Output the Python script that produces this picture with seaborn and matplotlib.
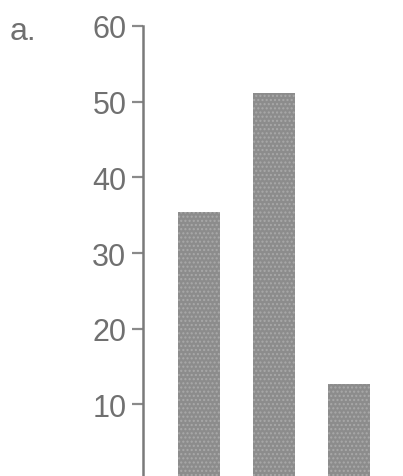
import pandas as pd
import matplotlib
matplotlib.use("Agg")
from matplotlib import pyplot as plt
import seaborn as sns

sns.set_style('white')

CATEGORIES = ["A", "B", "C"]
VALUES = [35.4, 51.1, 12.7]
YTICKS = [10, 20, 30, 40, 50, 60]
PANEL_LABEL = "a."

plt.rcParams['font.family'] = ['Liberation Sans', 'DejaVu Sans']

df = pd.DataFrame({"group": CATEGORIES, "value": VALUES})

fig = plt.figure(figsize=(4.03, 4.77), dpi=100)
ax = fig.add_axes([143 / 403, -4 / 477, 260 / 403, 454 / 477])

sns.barplot(data=df, x="group", y="value", color="#8c8c8c", saturation=1,
            width=0.56, edgecolor="none", ax=ax)
for patch in ax.patches:
    patch.set_hatch("....")
    patch.set_edgecolor("#a9a9a9")
    patch.set_linewidth(0)

ax.set_xlim(-0.75, 2.72)
ax.set_ylim(0, 60)
ax.set_yticks(YTICKS)
ax.set_yticklabels([str(t) for t in YTICKS], color="#707070", fontsize=22)
ax.set_xticks([])
ax.set_xlabel("")
ax.set_ylabel("")

for side in ["top", "right", "bottom"]:
    ax.spines[side].set_visible(False)
ax.spines["left"].set_color("#7a7a7a")
ax.spines["left"].set_linewidth(1.8)
ax.tick_params(axis="y", direction="out", length=8, width=1.6,
               color="#8a8a8a", pad=4, left=True)
for lab in ax.get_yticklabels():
    lab.set_y(lab.get_position()[1])

fig.text(10 / 403, 1 - 40 / 477, PANEL_LABEL, fontsize=23, color="#707070",
         ha="left", va="baseline")

plt.savefig("out.png", dpi=100)
